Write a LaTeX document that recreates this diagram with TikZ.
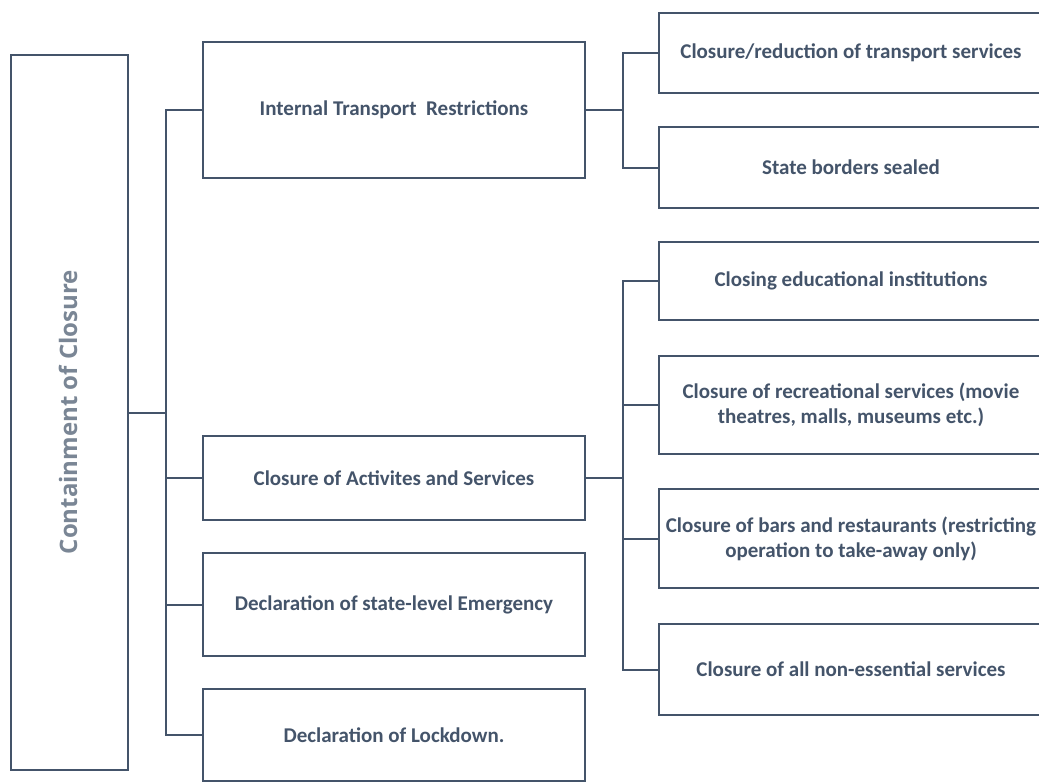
\documentclass[tikz,border=0pt]{standalone}
\usepackage{fontspec}
\setmainfont{Carlito}
\newfontfamily\titlefont{Open Sans}
\definecolor{boxc}{HTML}{44546A}
\definecolor{titlec}{HTML}{7A8695}
\begin{document}
\begin{tikzpicture}[x=1pt,y=-1pt,
  box/.style={draw=boxc,line width=2.6pt,minimum width=#1,inner sep=0pt,align=center,
    font=\fontsize{21}{25}\selectfont\bfseries,text=boxc},
  conn/.style={draw=boxc,line width=2pt}]
\useasboundingbox (0,0) rectangle (1039,782);
\fill[white] (0,0) rectangle (1039,782);
% left
\node[box=117pt,minimum height=715pt] (L) at (69.5,412.5) {};
\node[rotate=90,font=\titlefont\fontsize{24}{28}\selectfont\bfseries,text=titlec] (T) at (68,412) {Containment of Closure};
% level 1
\node[box=382pt,minimum height=136pt] (b1) at (394,110) {Internal Transport\ \ Restrictions};
\node[box=382pt,minimum height=84pt] (b2) at (394,478) {Closure of Activites and Services};
\node[box=382pt,minimum height=103pt] (b3) at (394,604.5) {Declaration of state-level Emergency};
\node[box=382pt,minimum height=92pt] (b4) at (394,735) {Declaration of Lockdown.};
% level 2
\node[box=384pt,minimum height=80pt] (r1) at (851,53) {Closure/reduction of transport services};
\node[box=384pt,minimum height=81pt] (r2) at (851,167.5) {State borders sealed};
\node[box=384pt,minimum height=78pt] (r3) at (851,281) {Closing educational institutions};
\node[box=384pt,minimum height=98pt] (r4) at (851,405) {Closure of recreational services (movie\\theatres, malls, museums etc.)};
\node[box=384pt,minimum height=99pt] (r5) at (851,538.5) {Closure of bars and restaurants (restricting\\operation to take-away only)};
\node[box=384pt,minimum height=91pt] (r6) at (851,669.5) {Closure of all non-essential services};
% connectors
\draw[conn] (L.east) -- ++(37,0) coordinate (j1);
\draw[conn] (j1) |- (b1.west);
\draw[conn] (j1) |- (b2.west);
\draw[conn] (j1) |- (b3.west);
\draw[conn] (j1) |- (b4.west);
\draw[conn] (b1.east) -- ++(37,0) coordinate (j2);
\draw[conn] (j2) |- (r1.west);
\draw[conn] (j2) |- (r2.west);
\draw[conn] (b2.east) -- ++(37,0) coordinate (j3);
\draw[conn] (j3) |- (r3.west);
\draw[conn] (j3) |- (r4.west);
\draw[conn] (j3) |- (r5.west);
\draw[conn] (j3) |- (r6.west);
\end{tikzpicture}
\end{document}
